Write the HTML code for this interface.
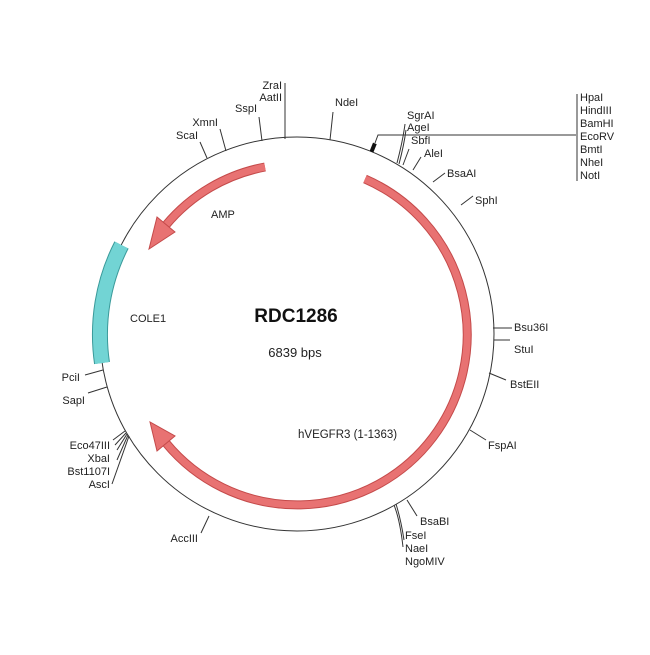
<!DOCTYPE html>
<html><head><style>
html,body{margin:0;padding:0;background:#fff;}
svg text{font-family:"Liberation Sans",Arial,sans-serif;fill:#222;}
</style></head><body>
<svg width="650" height="650" viewBox="0 0 650 650" xmlns="http://www.w3.org/2000/svg">
<rect width="650" height="650" fill="#fff"/>
<circle cx="297" cy="334" r="197" fill="none" stroke="#333" stroke-width="1"/>
<!-- COLE1 -->
<path d="M121.5 245 A197 197 0 0 0 102 363" fill="none" stroke="#3a9a9a" stroke-width="16"/>
<path d="M121.5 245 A197 197 0 0 0 102 363" fill="none" stroke="#72d4d4" stroke-width="14"/>
<!-- AMP -->
<path d="M265 167 A170 170 0 0 0 166 225" fill="none" stroke="#c44a4a" stroke-width="9"/>
<path d="M265 167 A170 170 0 0 0 166 225" fill="none" stroke="#e87272" stroke-width="7"/>
<polygon points="175,232 157,217 149,249" fill="#e87272" stroke="#c44a4a" stroke-width="1"/>
<!-- hVEGFR3 -->
<path d="M365 179 A170 170 0 1 1 166 443" fill="none" stroke="#c44a4a" stroke-width="9"/>
<path d="M365 179 A170 170 0 1 1 166 443" fill="none" stroke="#e87272" stroke-width="7"/>
<polygon points="175,436 157,451 150,422" fill="#e87272" stroke="#c44a4a" stroke-width="1"/>
<g stroke="#333" stroke-width="1" fill="none">
<line x1="285" y1="139" x2="285" y2="83"/>
<line x1="262" y1="141" x2="259" y2="117"/>
<line x1="226" y1="151" x2="220" y2="129"/>
<line x1="207" y1="158" x2="200" y2="142"/>
<line x1="330" y1="140" x2="333" y2="112"/>
<polyline points="375,143 378,135 576,135"/>
<line x1="577" y1="94" x2="577" y2="181"/>
<path d="M397 163 Q403 140 405 124"/>
<path d="M399 164 Q404 145 406 130"/>
<line x1="403" y1="165" x2="409" y2="149"/>
<line x1="413" y1="170" x2="421" y2="157"/>
<line x1="433" y1="182" x2="445" y2="173"/>
<line x1="461" y1="205" x2="473" y2="196"/>
<line x1="493" y1="328" x2="512" y2="328"/>
<line x1="494" y1="340" x2="510" y2="340"/>
<line x1="489" y1="373" x2="506" y2="380"/>
<line x1="470" y1="430" x2="486" y2="440"/>
<line x1="407" y1="500" x2="417" y2="516"/>
<path d="M394 505 Q400 520 403 547"/>
<path d="M396 504 Q401 520 404 540"/>
<line x1="209" y1="516" x2="201" y2="533"/>
<path d="M125 431 L113 440"/>
<path d="M126 433 L115 445"/>
<path d="M127 434 L117 450"/>
<path d="M128 435 L117 460"/>
<path d="M129 436 L112 484"/>
<line x1="107" y1="387" x2="88" y2="393"/>
<line x1="103" y1="370" x2="85" y2="375"/>
</g>
<rect x="371" y="143" width="4" height="9" fill="#111" transform="rotate(22 373 148)"/>
<g font-size="11">
<text x="282" y="89" text-anchor="end">ZraI</text>
<text x="282" y="101" text-anchor="end">AatII</text>
<text x="257" y="112" text-anchor="end">SspI</text>
<text x="218" y="126" text-anchor="end">XmnI</text>
<text x="198" y="139" text-anchor="end">ScaI</text>
<text x="335" y="106">NdeI</text>
<text x="407" y="119">SgrAI</text>
<text x="407" y="131">AgeI</text>
<text x="411" y="144">SbfI</text>
<text x="424" y="157">AleI</text>
<text x="447" y="177">BsaAI</text>
<text x="475" y="204">SphI</text>
<text x="580" y="101">HpaI</text>
<text x="580" y="114">HindIII</text>
<text x="580" y="127">BamHI</text>
<text x="580" y="140">EcoRV</text>
<text x="580" y="153">BmtI</text>
<text x="580" y="166">NheI</text>
<text x="580" y="179">NotI</text>
<text x="514" y="331">Bsu36I</text>
<text x="514" y="353">StuI</text>
<text x="510" y="388">BstEII</text>
<text x="488" y="449">FspAI</text>
<text x="420" y="525">BsaBI</text>
<text x="405" y="539">FseI</text>
<text x="405" y="552">NaeI</text>
<text x="405" y="565">NgoMIV</text>
<text x="198" y="542" text-anchor="end">AccIII</text>
<text x="110" y="449" text-anchor="end">Eco47III</text>
<text x="110" y="462" text-anchor="end">XbaI</text>
<text x="110" y="475" text-anchor="end">Bst1107I</text>
<text x="110" y="488" text-anchor="end">AscI</text>
<text x="85" y="404" text-anchor="end">SapI</text>
<text x="80" y="381" text-anchor="end">PciI</text>
<text x="211" y="218">AMP</text>
<text x="130" y="322">COLE1</text>
<text x="298" y="438" font-size="11.5">hVEGFR3 (1-1363)</text>
</g>
<text x="296" y="322" text-anchor="middle" font-size="19" font-weight="bold" style="fill:#111">RDC1286</text>
<text x="295" y="357" text-anchor="middle" font-size="13">6839 bps</text>
</svg>
</body></html>
